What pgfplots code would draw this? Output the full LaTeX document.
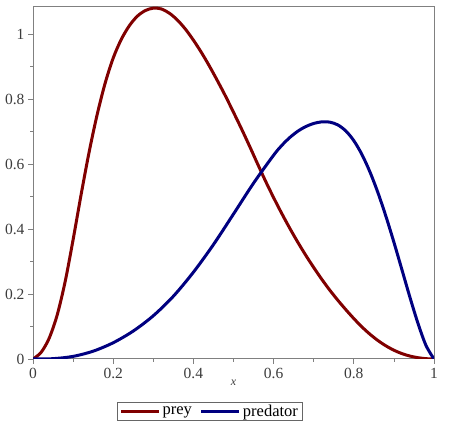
\documentclass[border=0pt]{standalone}
\usepackage{fontspec}
\setmainfont{Liberation Serif}
\usepackage{pgfplots}
\pgfplotsset{compat=1.18}
\definecolor{preyc}{RGB}{128,0,0}
\definecolor{predc}{RGB}{0,0,128}
\definecolor{framec}{RGB}{128,128,128}
\definecolor{labc}{RGB}{60,60,60}
\begin{document}
\begin{tikzpicture}
\begin{axis}[
  scale only axis,
  width=401pt, height=352pt,
  xmin=0, xmax=1, ymin=0, ymax=1.083,
  axis line style={framec, line width=1pt},
  xtick={0,0.2,0.4,0.6,0.8,1},
  ytick={0,0.2,0.4,0.6,0.8,1},
  xticklabels={0,0.2,0.4,0.6,0.8,1},
  yticklabels={0,0.2,0.4,0.6,0.8,1},
  minor xtick={0.1,0.3,0.5,0.7,0.9},
  minor ytick={0.1,0.3,0.5,0.7,0.9},
  tick align=outside,
  xtick pos=bottom, ytick pos=left,
  major tick length=5pt, minor tick length=3pt,
  tick style={framec, line width=0.8pt},
  ticklabel style={font=\fontsize{15.5}{17}\selectfont, text=labc},
  xticklabel style={yshift=-1pt},
  /pgf/number format/assume math mode=true,
  xlabel={\textit{x}},
  xlabel style={font=\fontsize{12}{14}\selectfont, text=labc, at={(axis description cs:0.5,-0.05)}, anchor=north},
  legend columns=2,
  legend style={at={(0.21,-0.122)}, anchor=north west, draw=black!60, line width=0.8pt,
    font=\fontsize{16.5}{18}\selectfont, inner xsep=2pt, inner ysep=0.5pt,
    /tikz/every even column/.append style={column sep=6pt}},
  legend image code/.code={\draw[#1, line width=3pt] (0pt,0pt) -- (38pt,0pt);},
]
\addplot[preyc, line width=3pt, smooth] coordinates {
(0,0) (0.02,0.020) (0.04,0.063) (0.06,0.134) (0.08,0.237) (0.10,0.367) (0.12,0.506)
(0.14,0.637) (0.16,0.752) (0.18,0.849) (0.20,0.926) (0.22,0.983) (0.24,1.025)
(0.26,1.0545) (0.28,1.072) (0.30,1.0795) (0.32,1.077) (0.34,1.064) (0.36,1.043)
(0.38,1.015) (0.40,0.981) (0.42,0.943) (0.44,0.901) (0.46,0.856) (0.48,0.809)
(0.50,0.759) (0.52,0.708) (0.54,0.655) (0.56,0.6005) (0.58,0.547) (0.60,0.4965)
(0.62,0.4485) (0.64,0.403) (0.66,0.360) (0.68,0.3195) (0.70,0.2815) (0.72,0.2455)
(0.74,0.212) (0.76,0.181) (0.78,0.152) (0.80,0.1245) (0.82,0.099) (0.84,0.0765)
(0.86,0.057) (0.88,0.0405) (0.90,0.027) (0.92,0.0165) (0.94,0.009) (0.96,0.004)
(0.98,0.001) (1,0)
};
\addlegendentry{prey}
\addplot[predc, line width=3pt, smooth] coordinates {
(0,0) (0.05,0.001) (0.10,0.008) (0.15,0.024) (0.20,0.050) (0.25,0.086)
(0.30,0.133) (0.35,0.193) (0.40,0.267) (0.45,0.352) (0.50,0.446) (0.55,0.541)
(0.60,0.627) (0.62,0.6565) (0.64,0.681) (0.66,0.7005) (0.68,0.715) (0.70,0.7247)
(0.72,0.7296) (0.74,0.7288) (0.76,0.7203) (0.78,0.7018) (0.80,0.6718) (0.82,0.6298)
(0.84,0.5763) (0.86,0.5123) (0.88,0.4393) (0.90,0.3593) (0.92,0.2748) (0.94,0.1898)
(0.96,0.1098) (0.98,0.0418) (1,0)
};
\addlegendentry{predator}
\end{axis}
\path (current axis.south west) ++(-33pt,-76pt) coordinate (bbA);
\path (current axis.north east) ++(22pt,7pt) coordinate (bbB);
\path (bbA) rectangle (bbB);
\end{tikzpicture}
\end{document}
